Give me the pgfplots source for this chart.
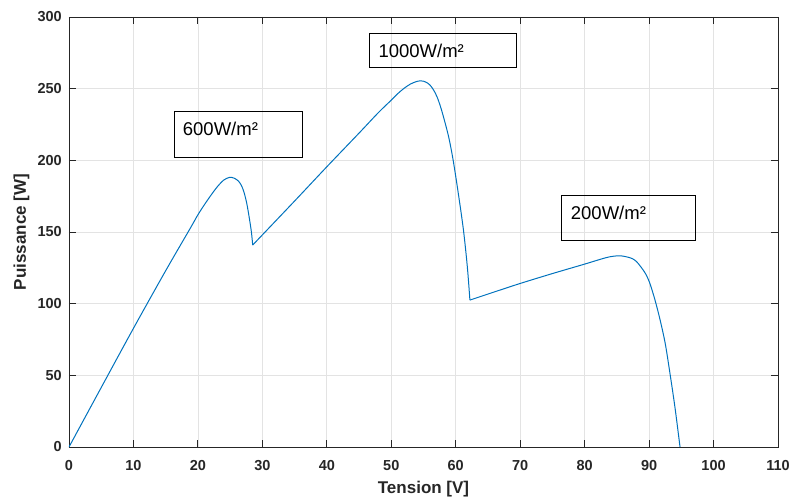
\documentclass[border=0pt]{standalone}
\usepackage{fontspec}
\setmainfont{Liberation Sans}
\usepackage{pgfplots}
\pgfplotsset{compat=1.18}
\definecolor{mblue}{rgb}{0,0.447,0.741}
\definecolor{axgray}{HTML}{262626}
\definecolor{gridgray}{HTML}{E3E3E3}

\begin{document}
\begin{tikzpicture}
\begin{axis}[
  name=ax,
  scale only axis, width=709bp, height=430bp,
  xmin=0, xmax=110, ymin=0, ymax=300,
  xtick={0,10,...,110}, ytick={0,50,...,300},
  grid=major, major grid style={gridgray, line width=0.8bp},
  axis line style={axgray, line width=0.9bp},
  tick style={axgray, line width=0.9bp},
  major tick length=7bp,
  tick align=inside,
  /pgf/number format/assume math mode=true,
  ticklabel style={font=\fontsize{14.5bp}{17bp}\selectfont\bfseries, text=axgray},
  xticklabel style={inner sep=0pt, anchor=north, yshift=-13bp},
  yticklabel style={inner sep=0pt, anchor=east, xshift=-7bp},
  xlabel={Tension [V]}, ylabel={Puissance [W]},
  label style={font=\fontsize{17bp}{20bp}\selectfont\bfseries, text=axgray},
  xlabel style={at={(axis description cs:0.5,-0.107)}, anchor=base, inner sep=0pt},
  ylabel style={at={(axis description cs:-0.0607,0.5)}, anchor=base, inner sep=0pt},
]
\addplot[mblue, line width=1bp, smooth, tension=0.5] coordinates {
(0,0) (5,41.5) (10,82.8) (15,123) (18.8,152.5) (20,162) (21,169) (22,175.5) (23,181.5) (24,186.2) (24.9,188.1) (25.6,187.6) (26.3,185.5) (26.8,182) (27.2,177) (27.6,169.5) (28,159) (28.3,150) (28.5,140.9)
};
\addplot[mblue, line width=1bp, smooth, tension=0.5] coordinates {
(28.5,140.9) (35,171.6) (40,195.5) (45,219) (48,233.3) (50,242) (51,246.5) (52,250.3) (53,253.3) (54,255.1) (54.5,255.5) (55,255.2) (55.6,254) (56.1,252) (56.6,248.8) (57.1,244.3) (57.6,238) (58.1,230.3) (58.9,216.4) (59.6,200.1) (60.4,176.9) (61.2,151.3) (61.8,125.7) (62.2,102.5)
};
\addplot[mblue, line width=1bp, smooth, tension=0.5] coordinates {
(62.2,102.5) (66,108.2) (70,114.1) (75,121) (80,127.6) (82.4,130.9) (83.9,132.7) (85.5,133.4) (87,132.1) (87.7,130.6) (88.3,128.1) (89.4,121.3) (90.1,114.4) (90.9,102.8) (91.7,88.8) (92.5,72.3) (93.2,52.5) (94.0,28.1) (94.8,0)
};
\draw[black, line width=0.9bp] (axis cs:16.34,233.9) rectangle (axis cs:36.26,202.3);
\draw[black, line width=0.9bp] (axis cs:46.55,288.6) rectangle (axis cs:69.47,264.9);
\draw[black, line width=0.9bp] (axis cs:76.45,175.6) rectangle (axis cs:97.18,144.4);
\node[anchor=base west, inner sep=0pt, font=\fontsize{18.5bp}{21bp}\selectfont] at (axis cs:17.64,217.2) {600W/m²};
\node[anchor=base west, inner sep=0pt, font=\fontsize{18.5bp}{21bp}\selectfont] at (axis cs:47.99,271.9) {1000W/m²};
\node[anchor=base west, inner sep=0pt, font=\fontsize{18.5bp}{21bp}\selectfont] at (axis cs:77.84,158.4) {200W/m²};
\end{axis}
\pgfresetboundingbox
\path ([shift={(-69bp,-52bp)}]ax.south west) rectangle ([shift={(14bp,17bp)}]ax.north east);
\end{tikzpicture}
\end{document}
